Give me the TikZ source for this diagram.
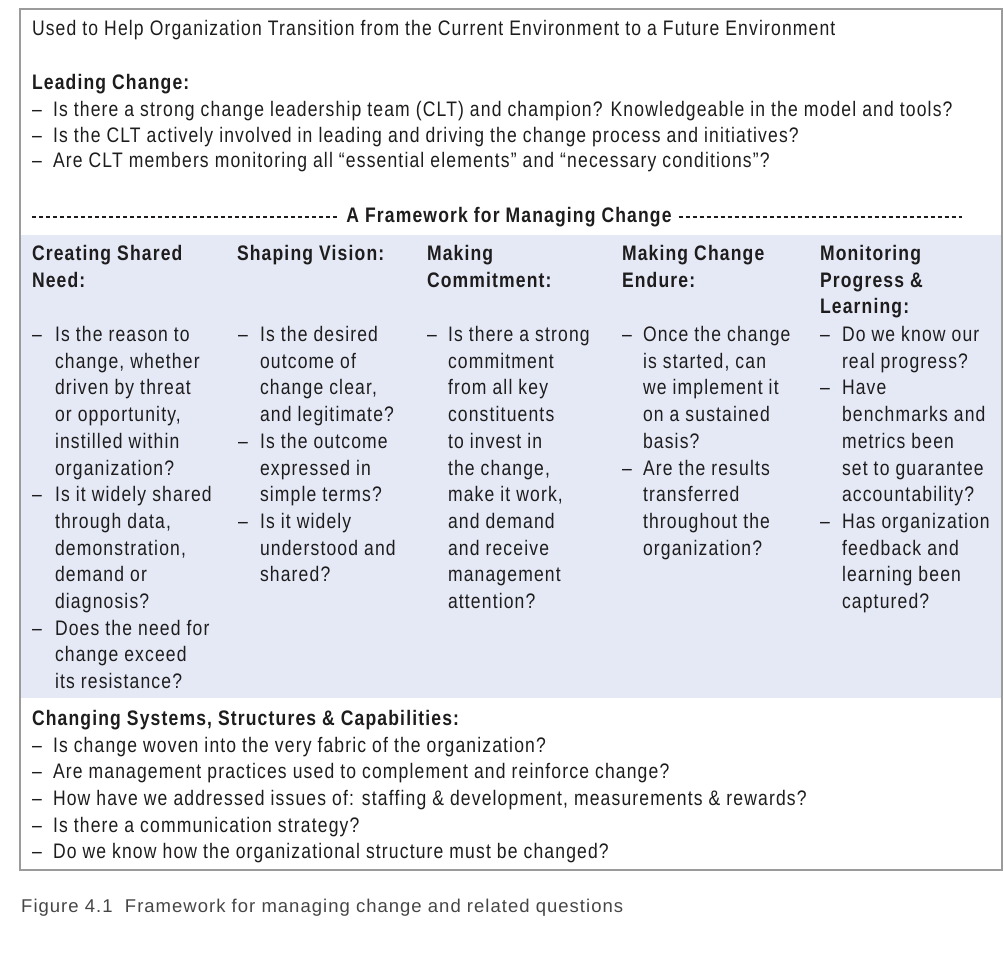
\documentclass[tikz,border=0pt]{standalone}
\usepackage{fontspec}
\setmainfont[FakeStretch=0.835,LetterSpace=5.5]{Liberation Sans}
\newfontfamily\capfont[LetterSpace=5.5]{Liberation Sans}
\definecolor{txt}{RGB}{30,28,29}
\definecolor{band}{RGB}{228,233,245}
\definecolor{framegray}{RGB}{155,155,155}
\definecolor{captxt}{RGB}{70,70,70}
\newcommand{\stk}[1]{\begin{tabular}[t]{@{}l@{}}#1\end{tabular}}
\begin{document}
\begin{tikzpicture}[x=1pt,y=-1pt,
  body/.style={anchor=base west,inner sep=0pt,outer sep=0pt,text=txt,font=\fontsize{21}{26.7}\selectfont},
  head/.style={body,font=\bfseries\fontsize{21}{26.7}\selectfont},
  dashmark/.style={body},
  dashline/.style={draw=txt,line width=1.1pt,dash pattern=on 4.2pt off 2.8pt},
  caption/.style={anchor=base west,inner sep=0pt,text=captxt,font=\capfont\fontsize{18.5}{22}\selectfont}]
\useasboundingbox (0,0) rectangle (1004,960);
\fill[white] (0,0) rectangle (1004,960);
% frame and band
\fill[band] (21,235) rectangle (1002,698);
\draw[framegray,line width=1.4pt] (20,9) rectangle (1002,870);
% top section
\node[body] (title) at (32,36) {Used to Help Organization Transition from the Current Environment to a Future Environment};
\node[head] (lc) at (32,89.5) {Leading Change:};
\node[dashmark] (lcd1) at (32,117) {\textendash};
\node[body] (lc1) at (53,117) {Is there a strong change leadership team (CLT) and champion? Knowledgeable in the model and tools?};
\node[dashmark] (lcd2) at (32,142.5) {\textendash};
\node[body] (lc2) at (53,142.5) {Is the CLT actively involved in leading and driving the change process and initiatives?};
\node[dashmark] (lcd3) at (32,168) {\textendash};
\node[body] (lc3) at (53,168) {Are CLT members monitoring all \textquotedblleft essential elements\textquotedblright{} and \textquotedblleft necessary conditions\textquotedblright?};
% framework divider
\node[head,anchor=base,inner xsep=7pt] (fw) at (509,223) {A Framework for Managing Change};
\coordinate (dl) at (32,217);
\coordinate (dr) at (962,217);
\draw[dashline] (dl) -- (fw.west |- dl);
\draw[dashline] (fw.east |- dr) -- (dr);
% column headers
\node[head] (h1) at (32,260.5) {\stk{Creating Shared\\Need:}};
\node[head] (h2) at (237,260.5) {\stk{Shaping Vision:}};
\node[head] (h3) at (427,260.5) {\stk{Making\\Commitment:}};
\node[head] (h4) at (622,260.5) {\stk{Making Change\\Endure:}};
\node[head] (h5) at (820,260.5) {\stk{Monitoring\\Progress \&\\Learning:}};
% column 1
\node[dashmark] (c1d1) at (32,341.5) {\textendash};
\node[body] (c1b1) at (55,341.5) {\stk{Is the reason to\\change, whether\\driven by threat\\or opportunity,\\instilled within\\organization?}};
\node[dashmark] (c1d2) at (32,501.7) {\textendash};
\node[body] (c1b2) at (55,501.7) {\stk{Is it widely shared\\through data,\\demonstration,\\demand or\\diagnosis?}};
\node[dashmark] (c1d3) at (32,635.2) {\textendash};
\node[body] (c1b3) at (55,635.2) {\stk{Does the need for\\change exceed\\its resistance?}};
% column 2
\node[dashmark] (c2d1) at (238,341.5) {\textendash};
\node[body] (c2b1) at (260,341.5) {\stk{Is the desired\\outcome of\\change clear,\\and legitimate?}};
\node[dashmark] (c2d2) at (238,448.3) {\textendash};
\node[body] (c2b2) at (260,448.3) {\stk{Is the outcome\\expressed in\\simple terms?}};
\node[dashmark] (c2d3) at (238,528.4) {\textendash};
\node[body] (c2b3) at (260,528.4) {\stk{Is it widely\\understood and\\shared?}};
% column 3
\node[dashmark] (c3d1) at (427,341.5) {\textendash};
\node[body] (c3b1) at (448,341.5) {\stk{Is there a strong\\commitment\\from all key\\constituents\\to invest in\\the change,\\make it work,\\and demand\\and receive\\management\\attention?}};
% column 4
\node[dashmark] (c4d1) at (622,341.5) {\textendash};
\node[body] (c4b1) at (643,341.5) {\stk{Once the change\\is started, can\\we implement it\\on a sustained\\basis?}};
\node[dashmark] (c4d2) at (622,475) {\textendash};
\node[body] (c4b2) at (643,475) {\stk{Are the results\\transferred\\throughout the\\organization?}};
% column 5
\node[dashmark] (c5d1) at (820,341.5) {\textendash};
\node[body] (c5b1) at (842,341.5) {\stk{Do we know our\\real progress?}};
\node[dashmark] (c5d2) at (820,394.9) {\textendash};
\node[body] (c5b2) at (842,394.9) {\stk{Have\\benchmarks and\\metrics been\\set to guarantee\\accountability?}};
\node[dashmark] (c5d3) at (820,528.4) {\textendash};
\node[body] (c5b3) at (842,528.4) {\stk{Has organization\\feedback and\\learning been\\captured?}};
% bottom section
\node[head] (cs) at (32,725) {Changing Systems, Structures \& Capabilities:};
\node[dashmark] (csd1) at (32,752) {\textendash};
\node[body] (cs1) at (53,752) {Is change woven into the very fabric of the organization?};
\node[dashmark] (csd2) at (32,778.7) {\textendash};
\node[body] (cs2) at (53,778.7) {Are management practices used to complement and reinforce change?};
\node[dashmark] (csd3) at (32,805.4) {\textendash};
\node[body] (cs3) at (53,805.4) {How have we addressed issues of: staffing \& development, measurements \& rewards?};
\node[dashmark] (csd4) at (32,832.1) {\textendash};
\node[body] (cs4) at (53,832.1) {Is there a communication strategy?};
\node[dashmark] (csd5) at (32,858.8) {\textendash};
\node[body] (cs5) at (53,858.8) {Do we know how the organizational structure must be changed?};
% caption
\node[caption] (cap) at (21,912) {Figure 4.1\ \ Framework for managing change and related questions};
\end{tikzpicture}
\end{document}
